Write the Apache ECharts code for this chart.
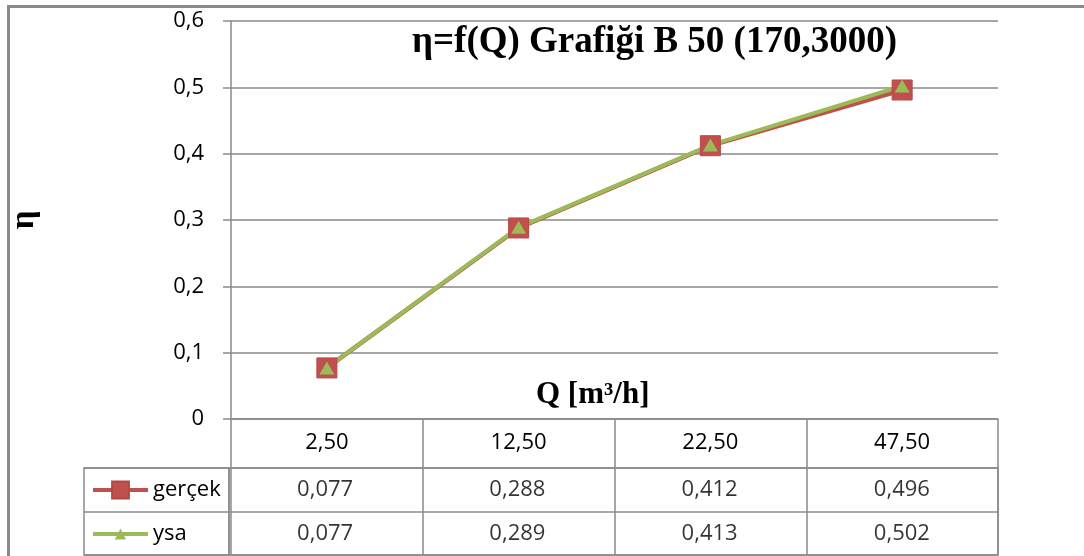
<!DOCTYPE html>
<html>
<head>
<meta charset="utf-8">
<script src="https://cdn.jsdelivr.net/npm/echarts@6/dist/echarts.min.js"></script>
<style>
  html, body { margin: 0; padding: 0; background: #ffffff; }
  #chart { width: 1084px; height: 556px; }
</style>
</head>
<body>
<div id="chart"></div>
<script>
// Debit (Q) kategorileri ve verim (η) değerleri
const categories = ['2,50', '12,50', '22,50', '47,50'];
const gercek = [0.077, 0.288, 0.412, 0.496];
const ysa = [0.077, 0.289, 0.413, 0.502];
const seriesNames = ['gerçek', 'ysa'];

const GRAY = '#8a8a8a';
const RED = '#C0504D';
const GREEN = '#9BBB59';
const SANS = '"Open Sans", "DejaVu Sans", sans-serif';
const SERIF = '"Liberation Serif", "DejaVu Serif", serif';

const fmtNum = (v, d) => v.toFixed(d).replace('.', ',');

// Data table cells: [column, row, value]
const tableCells = [];
gercek.forEach((v, i) => tableCells.push([i, 0, v]));
ysa.forEach((v, i) => tableCells.push([i, 1, v]));

const chart = echarts.init(document.getElementById('chart'), null, { renderer: 'canvas' });

chart.setOption({
  animation: false,
  backgroundColor: '#ffffff',
  title: [
    {
      text: 'η=f(Q) Grafiği B 50 (170,3000)',
      left: 412, top: 24, padding: 0,
      textStyle: { fontFamily: SERIF, fontWeight: 'bold', fontSize: 37, color: '#000' }
    },
    {
      text: 'Q [m³/h]',
      left: 536, top: 379, padding: 0,
      textStyle: { fontFamily: SERIF, fontWeight: 'bold', fontSize: 31, color: '#000' }
    }
  ],
  legend: [
    {
      data: [seriesNames[0]],
      left: 91, top: 478, padding: 0,
      itemWidth: 55, itemHeight: 21, itemGap: 0,
      selectedMode: false,
      lineStyle: { width: 4 },
      textStyle: { fontFamily: SANS, fontSize: 22, lineHeight: 24, color: '#000', padding: [0, 0, 0, 0] }
    },
    {
      data: [seriesNames[1]],
      left: 91, top: 522, padding: 0,
      itemWidth: 55, itemHeight: 14, itemGap: 0,
      selectedMode: false,
      lineStyle: { width: 4 },
      textStyle: { fontFamily: SANS, fontSize: 22, lineHeight: 24, color: '#000', padding: [0, 0, 0, 0] }
    }
  ],
  grid: [
    // plot area
    { left: 229, top: 21, width: 769, height: 398, containLabel: false },
    // table value rows
    { left: 229, top: 468, width: 769, height: 87, show: true, borderColor: GRAY, borderWidth: 1.5, backgroundColor: 'transparent' },
    // legend column of the table
    { left: 84, top: 468, width: 145, height: 87, show: true, borderColor: GRAY, borderWidth: 1.5, backgroundColor: 'transparent' }
  ],
  xAxis: [
    {
      gridIndex: 0, type: 'category', data: categories, boundaryGap: true,
      axisLine: { show: true, lineStyle: { color: GRAY, width: 1.5 } },
      axisTick: { show: true, inside: false, length: 136, lineStyle: { color: GRAY, width: 1.5 } },
      axisLabel: { fontFamily: SANS, fontSize: 22, lineHeight: 24, color: '#000', margin: 12, interval: 0 },
      splitLine: { show: false }
    },
    {
      gridIndex: 1, type: 'category', data: categories, boundaryGap: true,
      axisLine: { show: false }, axisTick: { show: false }, axisLabel: { show: false },
      splitLine: { show: false }
    },
    {
      gridIndex: 2, type: 'category', data: ['legend'], boundaryGap: true,
      axisLine: { show: false }, axisTick: { show: false }, axisLabel: { show: false },
      splitLine: { show: false }
    }
  ],
  yAxis: [
    {
      gridIndex: 0, type: 'value', min: 0, max: 0.6, interval: 0.1,
      name: 'η', nameLocation: 'middle', nameRotate: 90, nameGap: 190,
      nameTextStyle: { fontFamily: SERIF, fontWeight: 'bold', fontSize: 33, color: '#000' },
      axisLine: { show: true, lineStyle: { color: GRAY, width: 1.5 } },
      axisTick: { show: true, inside: false, length: 8, lineStyle: { color: GRAY, width: 1.5 } },
      axisLabel: {
        fontFamily: SANS, fontSize: 22, color: '#000', margin: 27,
        formatter: v => (v === 0 ? '0' : fmtNum(v, 1))
      },
      splitLine: { show: true, lineStyle: { color: GRAY, width: 1.5 } }
    },
    {
      gridIndex: 1, type: 'category', data: seriesNames, inverse: true, boundaryGap: true,
      axisLine: { show: false }, axisTick: { show: false }, axisLabel: { show: false },
      splitLine: { show: true, interval: 0, lineStyle: { color: GRAY, width: 1.5 } }
    },
    {
      gridIndex: 2, type: 'category', data: seriesNames, inverse: true, boundaryGap: true,
      axisLine: { show: false }, axisTick: { show: false }, axisLabel: { show: false },
      splitLine: { show: true, interval: 0, lineStyle: { color: GRAY, width: 1.5 } }
    }
  ],
  series: [
    {
      name: seriesNames[0], type: 'line', xAxisIndex: 0, yAxisIndex: 0,
      data: gercek,
      symbol: 'rect', symbolSize: 20,
      lineStyle: { color: RED, width: 4.5 },
      itemStyle: { color: RED, borderColor: '#b34744', borderWidth: 1 },
      emphasis: { disabled: true }
    },
    {
      name: seriesNames[1], type: 'line', xAxisIndex: 0, yAxisIndex: 0,
      data: ysa,
      symbol: 'triangle', symbolSize: [15, 13],
      lineStyle: { color: GREEN, width: 4 },
      itemStyle: { color: GREEN },
      emphasis: { disabled: true }
    },
    {
      // table values drawn as cell labels
      type: 'scatter', xAxisIndex: 1, yAxisIndex: 1,
      data: tableCells,
      symbolSize: 1,
      itemStyle: { color: 'rgba(0,0,0,0)' },
      silent: true,
      label: {
        show: true, position: 'inside',
        fontFamily: SANS, fontSize: 22, color: '#000',
        formatter: p => fmtNum(p.value[2], 3)
      }
    }
  ],
  graphic: [
    {
      // outer chart frame
      type: 'rect', left: 6, top: 4, silent: true,
      shape: { width: 1100, height: 560 },
      style: { fill: 'none', stroke: GRAY, lineWidth: 3 }
    }
  ]
});
</script>
</body>
</html>
